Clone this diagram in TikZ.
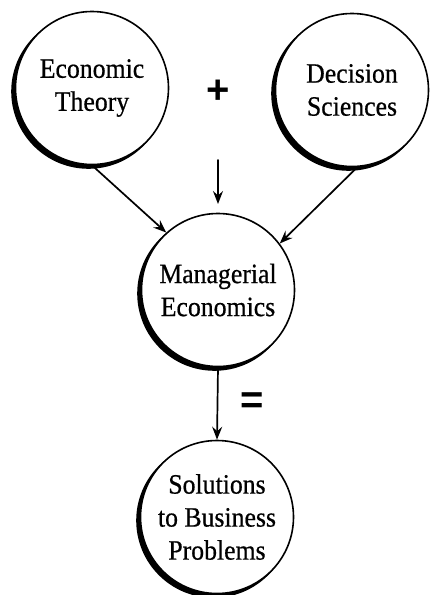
\documentclass[tikz,border=0pt]{standalone}
\usepackage{fontspec}
\setmainfont{Liberation Serif}
\newfontfamily\circfont{Liberation Serif}[FakeBold=0.6, FakeStretch=0.92]
\newfontfamily\signfont{Liberation Sans}
\usetikzlibrary{arrows.meta,shadows,positioning}

\begin{document}
\begin{tikzpicture}[x=1pt,y=1pt, line cap=round, line join=round, >={Stealth[length=13pt,width=10pt,inset=4.5pt]}]
\tikzset{
  topic/.style={circle, draw=black, fill=white, line width=1.6pt, minimum size=153pt, inner sep=0pt,
    align=center, font=\circfont\fontsize{28}{33}\selectfont,
    copy shadow={shadow xshift=-3.5pt, shadow yshift=-3.5pt, fill=black, draw=black}},
  flow/.style={->, line width=1.7pt},
  sign/.style={font=\signfont\bfseries\fontsize{40}{40}\selectfont, inner sep=0pt}
}
\useasboundingbox (0,0) rectangle (436,-595);

% inputs
\node[topic] (econ) at (92,-88) {Economic\\Theory};
\node[topic] (dec) at (352,-90) {Decision\\Sciences};
\node[sign] (plus) at (218,-92) {+};

% managerial economics
\node[topic] (manag) at (218,-290) {Managerial\\Economics};
\coordinate (dtop) at (218,-160);
\coordinate (dbot) at (218,-204);
\draw[flow] (dtop) -- (dbot);
\draw[flow] (econ.south) -- (manag.132);
\draw[flow] (dec.-86) -- (manag.37);

% result
\node[topic] (sol) at (217,-517) {Solutions\\to Business\\Problems};
\node[sign] (eq) at (252,-403) {=};
\draw[flow] (manag.south) -- (sol.north);

\end{tikzpicture}
\end{document}
